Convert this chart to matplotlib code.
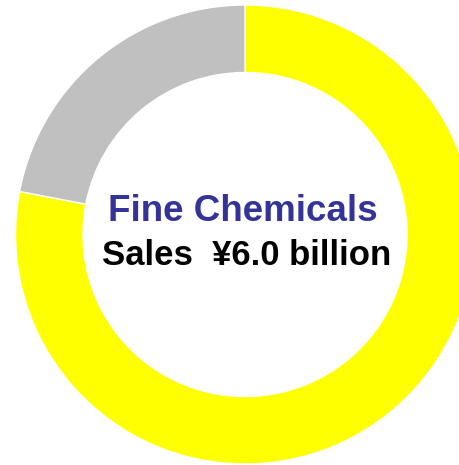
import matplotlib
matplotlib.use("Agg")
import matplotlib.pyplot as plt

# 数据
labels = ["Fine Chemicals", "Other"]
shares = [78, 22]
colors = ["#FFFF00", "#C0C0C0"]
title_text = "Fine Chemicals"
sales_text = "Sales  \u00a56.0 billion"

plt.rcParams['font.family'] = ['Liberation Sans', 'DejaVu Sans']

fig = plt.figure(figsize=(4.6, 4.65), dpi=100)
ax = fig.add_axes([15.5/460, 1/465, 459/460, 459/465])

ax.pie(shares, colors=colors, startangle=90, counterclock=False, radius=1,
       wedgeprops=dict(width=0.294, edgecolor="white", linewidth=1))
ax.set_xlim(-1, 1)
ax.set_ylim(-1, 1)
ax.set_aspect("equal")
ax.axis("off")

ax.text(-0.011, 0.059, title_text, ha="center", va="baseline",
        fontsize=26.5, fontweight="bold", color="#333399")
ax.text(0.009, -0.133, sales_text, ha="center", va="baseline",
        fontsize=25, fontweight="bold", color="black")

fig.savefig("out.png", dpi=100)
